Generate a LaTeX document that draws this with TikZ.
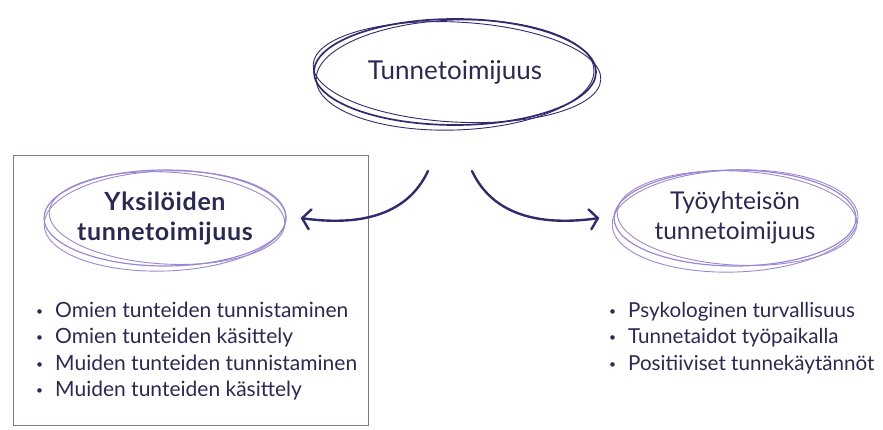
\documentclass[tikz,border=0pt]{standalone}
\usepackage{fontspec}
\setmainfont{Lato}
\usetikzlibrary{shapes.geometric,arrows.meta}

\definecolor{navy}{HTML}{2E2B6E}
\definecolor{ink}{HTML}{2A2854}
\definecolor{lilac}{HTML}{9C87D3}
\definecolor{frame}{HTML}{7B788F}

\newcommand{\bul}{\makebox[19pt][l]{\raisebox{2pt}{\fontsize{12}{12}\selectfont •}}}

\tikzset{
  oval/.style={ellipse, inner sep=0pt, text=ink, align=center},
  mainoval/.style={oval, draw=navy, line width=1.7pt, minimum width=282pt, minimum height=106pt,
    font=\fontsize{26}{30}\selectfont},
  subgoal/.style={oval, draw=lilac, line width=1.2pt, minimum width=242pt, minimum height=96pt,
    inner xsep=-25pt, inner ysep=-10pt, font=\fontsize{24.5}{30}\selectfont},
  sketch/.style={line width=0.9pt},
  curvearrow/.style={navy, line width=2.4pt, line cap=round,
    -{Straight Barb[length=8pt,width=20pt,line cap=round]}},
  bullets/.style={anchor=west, align=left, text=ink, inner sep=0pt,
    font=\fontsize{21}{26.6}\selectfont},
  boxframe/.style={draw=frame, line width=0.9pt, minimum width=355pt, minimum height=270pt, inner sep=0pt}
}

\begin{document}
\begin{tikzpicture}[x=1pt,y=-1pt]
\useasboundingbox (0,0) rectangle (883,430);
\node[boxframe] (box) at (190.5,290) {};
% top
\node[mainoval] (top) at (455,72) {Tunnetoimijuus};
\draw [navy, sketch, rotate around={-3:(top.center)}] ([xshift=2pt]top.center) ellipse [x radius=144pt, y radius=50pt];
\draw [navy, sketch, rotate around={2:(top.center)}] ([yshift=-3pt]top.center) ellipse [x radius=139pt, y radius=55pt];
% left
\node[subgoal, font=\bfseries\fontsize{25}{30}\selectfont\addfontfeatures{LetterSpace=2.5}] (ind) at (165,218) {Yksilöiden\\tunnetoimijuus};
\draw [lilac, sketch, rotate around={-3:(ind.center)}] ([xshift=2pt]ind.center) ellipse [x radius=118pt, y radius=46pt];
\draw [lilac, sketch, rotate around={2:(ind.center)}] ([yshift=-3pt]ind.center) ellipse [x radius=121pt, y radius=50pt];
% right
\node[subgoal] (com) at (735,218) {Työyhteisön\\tunnetoimijuus};
\draw [lilac, sketch, rotate around={-3:(com.center)}] ([xshift=2pt]com.center) ellipse [x radius=120pt, y radius=47pt];
\draw [lilac, sketch, rotate around={2:(com.center)}] ([yshift=-3pt]com.center) ellipse [x radius=123pt, y radius=51pt];
% arrows
\coordinate (ls) at (428,171);
\coordinate (rs) at (472,171);
\draw [curvearrow] (ls) to[out=-115,in=-8] ([xshift=14pt]ind.east);
\draw [curvearrow] (rs) to[out=-65,in=188] ([xshift=-14pt]com.west);
% lists
\node[bullets] (indlist) at (36,351) {\bul Omien tunteiden tunnistaminen\\
\bul Omien tunteiden käsittely\\
\bul Muiden tunteiden tunnistaminen\\
\bul Muiden tunteiden käsittely};
\node[bullets, font=\fontsize{20.6}{26.6}\selectfont] (comlist) at (609,338) {\bul Psykologinen turvallisuus\\
\bul Tunnetaidot työpaikalla\\
\bul Positiiviset tunnekäytännöt};
\end{tikzpicture}
\end{document}
